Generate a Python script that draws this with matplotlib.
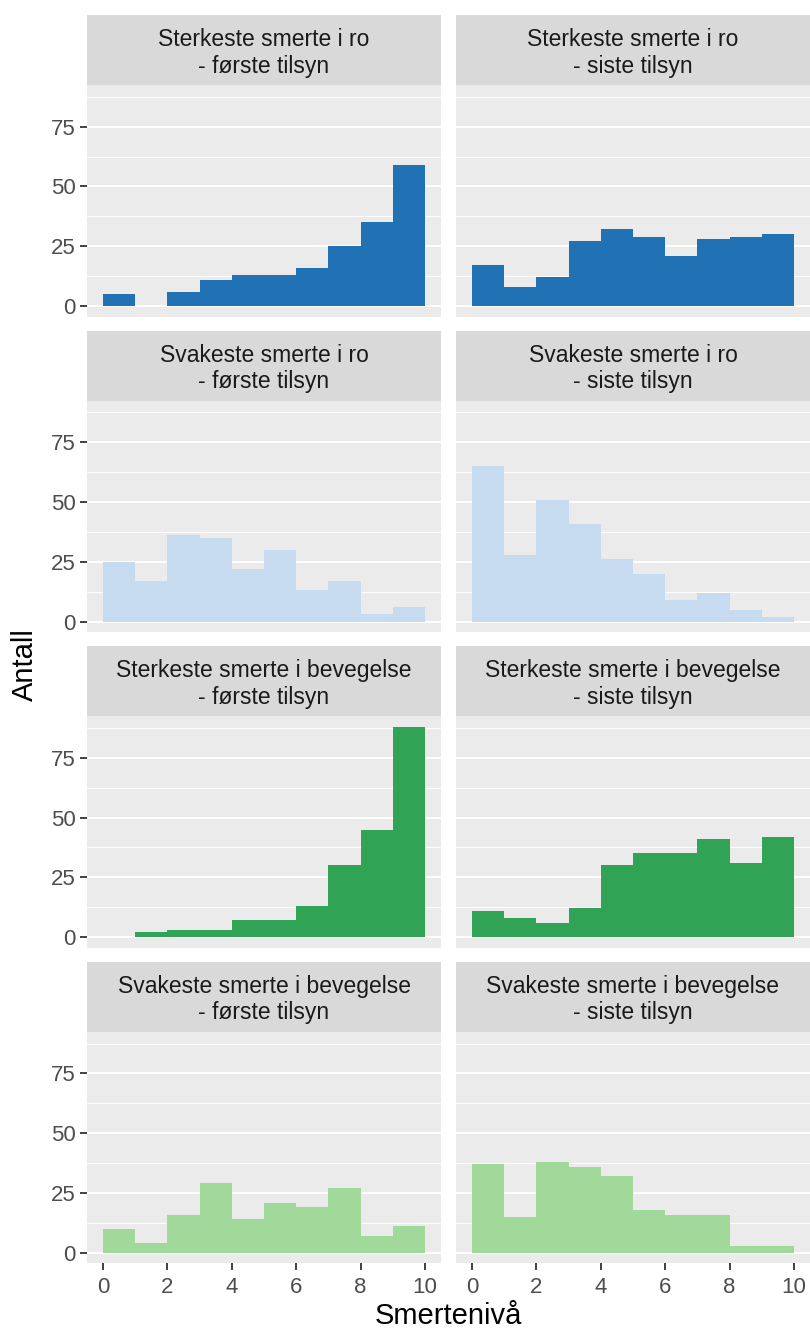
import matplotlib
matplotlib.use("Agg")
import matplotlib.pyplot as plt
import numpy as np

plt.rcParams['font.family'] = ['Liberation Sans', 'DejaVu Sans']

# bin edges 0..10, one count per unit bin
bins = np.arange(0, 11)

sterk_ro_forste = [5, 0, 6, 11, 13, 13, 16, 25, 35, 59]
sterk_ro_siste = [17, 8, 12, 27, 32, 29, 21, 28, 29, 30]
svak_ro_forste = [25, 17, 36, 35, 22, 30, 13, 17, 3, 6]
svak_ro_siste = [65, 28, 51, 41, 26, 20, 9, 12, 5, 2]
sterk_bev_forste = [0, 2, 3, 3, 7, 7, 13, 30, 45, 88]
sterk_bev_siste = [11, 8, 6, 12, 30, 35, 35, 41, 31, 42]
svak_bev_forste = [10, 4, 16, 29, 14, 21, 19, 27, 7, 11]
svak_bev_siste = [37, 15, 38, 36, 32, 18, 16, 16, 3, 3]

row_titles = ["Sterkeste smerte i ro", "Svakeste smerte i ro",
              "Sterkeste smerte i bevegelse", "Svakeste smerte i bevegelse"]
col_titles = ["- første tilsyn", "- siste tilsyn"]
row_colors = ["#2171b5", "#c6dbef", "#31a354", "#a1d99b"]
counts = [[sterk_ro_forste, sterk_ro_siste],
          [svak_ro_forste, svak_ro_siste],
          [sterk_bev_forste, sterk_bev_siste],
          [svak_bev_forste, svak_bev_siste]]

W, H = 810, 1331
fig = plt.figure(figsize=(W / 100, H / 100), dpi=100)

col_x = [87, 456]
col_w = 354
row_pitch = 315.6
strip_h = 70
panel_h = 231.5
ymax = max(max(max(c) for c in r) for r in counts)
ylim = (-0.05 * ymax, 1.05 * ymax)


def px_axes(x, y, w, h):
    return fig.add_axes([x / W, 1 - (y + h) / H, w / W, h / H])


for i in range(4):
    top = 15 + i * row_pitch
    for j in range(2):
        # strip
        sax = px_axes(col_x[j], top, col_w, strip_h)
        sax.set_facecolor("#d9d9d9")
        sax.set_xticks([])
        sax.set_yticks([])
        for s in sax.spines.values():
            s.set_visible(False)
        sax.text(0.5, 0.46, row_titles[i] + "\n" + col_titles[j],
                 ha="center", va="center", fontsize=16.5, color="#1a1a1a",
                 linespacing=1.2, transform=sax.transAxes)

        ax = px_axes(col_x[j], top + strip_h, col_w, panel_h)
        ax.set_facecolor("#ebebeb")
        for s in ax.spines.values():
            s.set_visible(False)
        ax.set_axisbelow(True)
        ax.set_xlim(-0.5, 10.5)
        ax.set_ylim(*ylim)
        ax.set_yticks([0, 25, 50, 75])
        ax.set_yticks([12.5, 37.5, 62.5, 87.5], minor=True)
        ax.set_xticks([0, 2, 4, 6, 8, 10])
        ax.grid(axis="y", which="major", color="white", linewidth=1.3)
        ax.grid(axis="y", which="minor", color="white", linewidth=0.7)
        ax.tick_params(which="minor", length=0)
        ax.tick_params(which="major", length=5, width=1.3, color="#333333",
                       labelsize=16, labelcolor="#4d4d4d", pad=3)
        ax.tick_params(axis="x", pad=5)
        ax.bar(bins[:-1], counts[i][j], width=1, align="edge",
               color=row_colors[i], linewidth=0)
        if j == 1:
            ax.tick_params(axis="y", left=False, labelleft=False)
        if i < 3:
            ax.tick_params(axis="x", bottom=False, labelbottom=False)

fig.text(448 / W, 1 - 1316 / H, "Smertenivå", ha="center", va="center",
         fontsize=21, color="black")
fig.text(25 / W, 1 - 665 / H, "Antall", ha="center", va="center",
         fontsize=21, color="black", rotation=90)

fig.savefig("out.png", dpi=100)
